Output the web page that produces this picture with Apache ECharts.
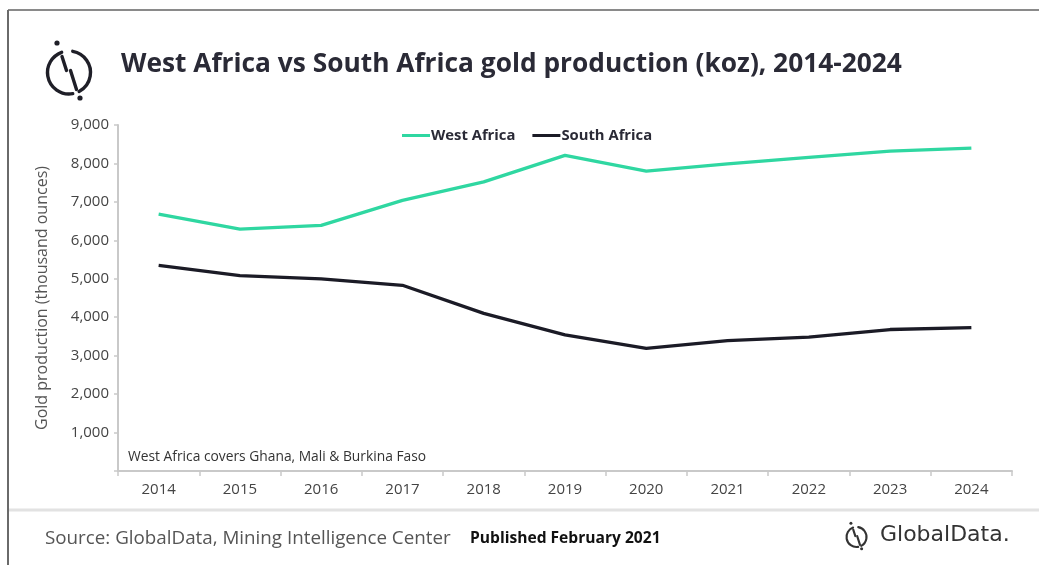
<!DOCTYPE html>
<html>
<head>
<meta charset="utf-8">
<script src="https://cdn.jsdelivr.net/npm/echarts@6/dist/echarts.min.js"></script>
<style>
  html, body { margin: 0; padding: 0; background: #fff; }
  #chart { width: 1039px; height: 565px; }
</style>
</head>
<body>
<div id="chart"></div>
<script>
// Gold production, thousand ounces (koz)
const years = ['2014', '2015', '2016', '2017', '2018', '2019', '2020', '2021', '2022', '2023', '2024'];
const westAfrica = [6680, 6290, 6390, 7040, 7520, 8210, 7800, 7990, 8160, 8320, 8400];
const southAfrica = [5350, 5080, 5000, 4830, 4100, 3540, 3190, 3390, 3480, 3680, 3730];
const yTicks = { min: 0, max: 9000, step: 1000 };

const FONT = '"Open Sans", "Liberation Sans", sans-serif';
const GREEN = '#2fd7a1';
const DARK = '#1b1b26';

// GlobalData mark: split ring, broken slash and two dots (geometry for r = 21.5)
function logoMark(cx, cy, r, w, dotR, color) {
  const d = Math.PI / 180;
  const s = r / 21.5;
  const stroke = { stroke: color, lineWidth: w, fill: null, lineCap: 'round' };
  const p = (x, y) => [cx + x * s, cy + y * s];
  const line = (a, b) => ({ type: 'line', shape: { x1: a[0], y1: a[1], x2: b[0], y2: b[1] }, style: stroke });
  const dot = (c) => ({ type: 'circle', shape: { cx: c[0], cy: c[1], r: dotR }, style: { fill: color } });
  return [
    { type: 'arc', shape: { cx, cy, r, startAngle: 80 * d, endAngle: 250 * d, clockwise: true }, style: stroke },
    { type: 'arc', shape: { cx, cy, r, startAngle: 280 * d, endAngle: 62 * d, clockwise: true }, style: stroke },
    line(p(-7, -16), p(-2.5, -2)),
    line(p(1.5, -2), p(7.5, 17)),
    dot(p(-12, -29.5)),
    dot(p(11, 25.5))
  ];
}

const chart = echarts.init(document.getElementById('chart'), null, { renderer: 'canvas' });

chart.setOption({
  animation: false,
  backgroundColor: '#fff',
  title: {
    text: 'West Africa vs South Africa gold production (koz), 2014-2024',
    left: 116,
    top: 47,
    textStyle: { fontFamily: FONT, fontSize: 26.3, fontWeight: 'bold', color: '#2a2a36' }
  },
  legend: {
    left: 397,
    top: 123,
    itemWidth: 28,
    itemHeight: 3,
    itemGap: 17,
    icon: 'rect',
    textStyle: { fontFamily: FONT, fontSize: 14.8, fontWeight: 'bold', color: '#2a2a36', padding: [0, 0, 0, -4] },
    data: ['West Africa', 'South Africa']
  },
  grid: { left: 118, right: 27, top: 125, bottom: 94, containLabel: false },
  xAxis: {
    type: 'category',
    data: years,
    boundaryGap: true,
    axisLine: { lineStyle: { color: '#c9c9c9', width: 2 } },
    axisTick: { show: true, length: 5, lineStyle: { color: '#c9c9c9', width: 1.5 } },
    axisLabel: { fontFamily: FONT, fontSize: 15, color: '#444', margin: 11 }
  },
  yAxis: {
    type: 'value',
    min: yTicks.min,
    max: yTicks.max,
    interval: yTicks.step,
    name: 'Gold production (thousand ounces)',
    nameLocation: 'middle',
    nameRotate: 90,
    nameGap: 68,
    nameTextStyle: { fontFamily: FONT, fontSize: 16, color: '#555' },
    splitLine: { show: false },
    axisLine: { show: true, lineStyle: { color: '#c9c9c9', width: 2 } },
    axisTick: { show: true, length: 4, lineStyle: { color: '#c9c9c9', width: 1.5 } },
    axisLabel: {
      fontFamily: FONT, fontSize: 15, color: '#444', margin: 9,
      formatter: v => (v === 0 ? '' : v.toLocaleString('en-US'))
    }
  },
  series: [
    {
      name: 'West Africa', type: 'line', data: westAfrica,
      symbol: 'none', lineStyle: { color: GREEN, width: 3.3 }, itemStyle: { color: GREEN }
    },
    {
      name: 'South Africa', type: 'line', data: southAfrica,
      symbol: 'none', lineStyle: { color: DARK, width: 3.3 }, itemStyle: { color: DARK }
    }
  ],
  graphic: [
    // frame and footer rule
    { type: 'line', shape: { x1: 8, y1: 10, x2: 1039, y2: 10 }, style: { stroke: '#8a8a8a', lineWidth: 2 } },
    { type: 'line', shape: { x1: 8, y1: 10, x2: 8, y2: 565 }, style: { stroke: '#6a6a6a', lineWidth: 2 } },
    { type: 'line', shape: { x1: 9, y1: 510, x2: 1039, y2: 510 }, style: { stroke: '#e2e2e2', lineWidth: 3 } },
    ...logoMark(69, 72.5, 21.5, 3.4, 2.6, '#1f1f28'),
    {
      type: 'text', left: 128, top: 450,
      style: { text: 'West Africa covers Ghana, Mali & Burkina Faso', font: '13.8px ' + FONT, fill: '#333' }
    },
    {
      type: 'text', left: 45, top: 529,
      style: { text: 'Source: GlobalData, Mining Intelligence Center', font: '18.8px ' + FONT, fill: '#555' }
    },
    {
      type: 'text', left: 470, top: 531,
      style: { text: 'Published February 2021', font: 'bold 15.6px ' + FONT, fill: '#111' }
    },
    ...logoMark(856.5, 537, 10, 2.1, 1.5, '#333'),
    {
      type: 'text', left: 880, top: 524,
      style: { text: 'GlobalData.', font: '22px "DejaVu Sans", sans-serif', fill: '#333' }
    }
  ]
});
</script>
</body>
</html>
